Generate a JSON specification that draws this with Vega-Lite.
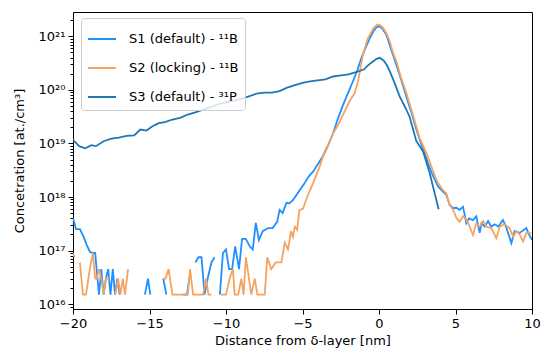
{
  "$schema": "https://vega.github.io/schema/vega-lite/v6.json",
  "width": 459,
  "height": 297,
  "autosize": {"type": "none"},
  "padding": {"left": 73, "top": 12, "right": 10, "bottom": 42},
  "background": "white",
  "config": {
    "font": "DejaVu Sans",
    "view": {"stroke": "black", "strokeWidth": 1},
    "axis": {
      "labelColor": "black", "tickColor": "black", "domainColor": "black", "titleColor": "black",
      "titleFontWeight": "normal", "labelFontSize": 13, "titleFontSize": 13, "tickSize": 5, "tickWidth": 1,
      "labelPadding": 3, "grid": false, "labelFont": "DejaVu Sans", "titleFont": "DejaVu Sans", "labelFlush": false
    }
  },
  "data": {"values": [
    {"s":"S1","x":-20.0,"c":4.07e17},{"s":"S1","x":-19.8,"c":2.51e17},{"s":"S1","x":-19.55,"c":2.51e17},{"s":"S1","x":-19.3,"c":1.78e17},{"s":"S1","x":-19.1,"c":1.26e17},{"s":"S1","x":-18.9,"c":9.5e16},{"s":"S1","x":-18.7,"c":9e16},{"s":"S1","x":-18.55,"c":9e16},{"s":"S1","x":-18.4,"c":3e16},{"s":"S1","x":-18.3,"c":1.5e16},{"s":"S1","x":-18.15,"c":4.5e16},{"s":"S1","x":-18.0,"c":1.5e16},{"s":"S1","x":-17.85,"c":3e16},{"s":"S1","x":-17.7,"c":4.5e16},{"s":"S1","x":-17.55,"c":1.5e16},{"s":"S1","x":-17.4,"c":4.5e16},{"s":"S1","x":-17.25,"c":1.5e16},{"s":"S1","x":-17.1,"c":3e16},{"s":"S1","x":-16.95,"c":1.5e16},{"s":"S1","x":-16.8,"c":null},
    {"s":"S1","x":-15.3,"c":1.5e16},{"s":"S1","x":-15.1,"c":3e16},{"s":"S1","x":-14.95,"c":1.5e16},{"s":"S1","x":-14.8,"c":null},
    {"s":"S1","x":-14.1,"c":3e16},{"s":"S1","x":-13.9,"c":1.5e16},{"s":"S1","x":-13.75,"c":null},
    {"s":"S1","x":-12.8,"c":1.5e16},{"s":"S1","x":-12.55,"c":1.5e16},{"s":"S1","x":-12.4,"c":3e16},{"s":"S1","x":-12.25,"c":null},
    {"s":"S1","x":-12.0,"c":6e16},{"s":"S1","x":-11.8,"c":7.5e16},{"s":"S1","x":-11.6,"c":7.5e16},{"s":"S1","x":-11.4,"c":1.5e16},{"s":"S1","x":-11.2,"c":3e16},{"s":"S1","x":-10.95,"c":6e16},{"s":"S1","x":-10.75,"c":7.5e16},{"s":"S1","x":-10.6,"c":null},
    {"s":"S1","x":-10.4,"c":1.5e16},{"s":"S1","x":-10.2,"c":9e16},{"s":"S1","x":-10.0,"c":1.05e17},{"s":"S1","x":-9.8,"c":4.5e16},{"s":"S1","x":-9.6,"c":4.5e16},{"s":"S1","x":-9.4,"c":1.2e17},{"s":"S1","x":-9.15,"c":4.5e16},{"s":"S1","x":-8.95,"c":1.65e17},{"s":"S1","x":-8.7,"c":1.65e17},{"s":"S1","x":-8.45,"c":1.2e17},{"s":"S1","x":-8.25,"c":1.05e17},{"s":"S1","x":-8.05,"c":3.3e17},{"s":"S1","x":-7.85,"c":1.58e17},{"s":"S1","x":-7.6,"c":2.3e17},{"s":"S1","x":-7.25,"c":2.63e17},{"s":"S1","x":-6.95,"c":2.63e17},{"s":"S1","x":-6.65,"c":3.47e17},{"s":"S1","x":-6.5,"c":5.75e17},{"s":"S1","x":-6.3,"c":5.0e17},{"s":"S1","x":-6.05,"c":7.8e17},{"s":"S1","x":-5.85,"c":7.6e17},{"s":"S1","x":-5.6,"c":8.9e17},{"s":"S1","x":-5.25,"c":1.26e18},{"s":"S1","x":-4.9,"c":1.74e18},{"s":"S1","x":-4.6,"c":2.4e18},{"s":"S1","x":-4.3,"c":3.0e18},{"s":"S1","x":-4.0,"c":4.07e18},{"s":"S1","x":-3.7,"c":5.6e18},{"s":"S1","x":-3.4,"c":8.3e18},{"s":"S1","x":-3.0,"c":1.55e19},{"s":"S1","x":-2.7,"c":2.82e19},{"s":"S1","x":-2.35,"c":5.25e19},{"s":"S1","x":-2.0,"c":9.1e19},{"s":"S1","x":-1.7,"c":1.45e20},{"s":"S1","x":-1.4,"c":2.4e20},{"s":"S1","x":-1.15,"c":3.98e20},{"s":"S1","x":-0.9,"c":5.9e20},{"s":"S1","x":-0.6,"c":9.3e20},{"s":"S1","x":-0.35,"c":1.26e21},{"s":"S1","x":-0.15,"c":1.48e21},{"s":"S1","x":0.0,"c":1.55e21},{"s":"S1","x":0.2,"c":1.41e21},{"s":"S1","x":0.48,"c":1.07e21},{"s":"S1","x":0.8,"c":5.6e20},{"s":"S1","x":1.1,"c":3.16e20},{"s":"S1","x":1.35,"c":1.9e20},{"s":"S1","x":1.6,"c":1.12e20},{"s":"S1","x":1.9,"c":5.9e19},{"s":"S1","x":2.15,"c":3.55e19},{"s":"S1","x":2.4,"c":2.0e19},{"s":"S1","x":2.66,"c":1.17e19},{"s":"S1","x":2.9,"c":7.6e18},{"s":"S1","x":3.2,"c":4.3e18},{"s":"S1","x":3.5,"c":2.6e18},{"s":"S1","x":3.86,"c":1.58e18},{"s":"S1","x":4.18,"c":1.26e18},{"s":"S1","x":4.4,"c":1.1e18},{"s":"S1","x":4.62,"c":7.1e17},{"s":"S1","x":4.85,"c":6.2e17},{"s":"S1","x":5.06,"c":6.3e17},{"s":"S1","x":5.27,"c":5.75e17},{"s":"S1","x":5.49,"c":6.6e17},{"s":"S1","x":5.71,"c":3.24e17},{"s":"S1","x":5.88,"c":4.0e17},{"s":"S1","x":6.14,"c":3.7e17},{"s":"S1","x":6.36,"c":4.37e17},{"s":"S1","x":6.58,"c":2.14e17},{"s":"S1","x":6.7,"c":3.24e17},{"s":"S1","x":6.91,"c":2.8e17},{"s":"S1","x":7.13,"c":3.55e17},{"s":"S1","x":7.34,"c":2.8e17},{"s":"S1","x":7.56,"c":3.1e17},{"s":"S1","x":7.8,"c":2.8e17},{"s":"S1","x":8.1,"c":3.7e17},{"s":"S1","x":8.3,"c":2.8e17},{"s":"S1","x":8.65,"c":1.38e17},{"s":"S1","x":8.87,"c":2.3e17},{"s":"S1","x":9.2,"c":2.14e17},{"s":"S1","x":9.63,"c":2.63e17},{"s":"S1","x":9.8,"c":2.0e17},{"s":"S1","x":10.0,"c":1.58e17},

    {"s":"S2","x":-20.0,"c":9e16},{"s":"S2","x":-19.9,"c":7.5e16},{"s":"S2","x":-19.75,"c":null},{"s":"S2","x":-19.55,"c":6e16},{"s":"S2","x":-19.35,"c":1.5e16},{"s":"S2","x":-19.15,"c":1.5e16},{"s":"S2","x":-18.9,"c":4.5e16},{"s":"S2","x":-18.7,"c":9e16},{"s":"S2","x":-18.55,"c":3e16},{"s":"S2","x":-18.45,"c":3e16},{"s":"S2","x":-18.3,"c":4.5e16},{"s":"S2","x":-18.15,"c":3e16},{"s":"S2","x":-18.0,"c":1.5e16},{"s":"S2","x":-17.85,"c":3e16},{"s":"S2","x":-17.6,"c":3e16},{"s":"S2","x":-17.45,"c":null},
    {"s":"S2","x":-17.25,"c":1.5e16},{"s":"S2","x":-17.05,"c":3e16},{"s":"S2","x":-16.9,"c":1.5e16},{"s":"S2","x":-16.75,"c":3e16},{"s":"S2","x":-16.6,"c":1.5e16},{"s":"S2","x":-16.4,"c":4.5e16},{"s":"S2","x":-16.25,"c":null},
    {"s":"S2","x":-14.1,"c":3e16},{"s":"S2","x":-13.95,"c":3e16},{"s":"S2","x":-13.75,"c":4.5e16},{"s":"S2","x":-13.5,"c":1.5e16},{"s":"S2","x":-13.2,"c":1.5e16},{"s":"S2","x":-12.9,"c":1.5e16},{"s":"S2","x":-12.65,"c":1.5e16},{"s":"S2","x":-12.5,"c":1.5e16},{"s":"S2","x":-12.35,"c":4.5e16},{"s":"S2","x":-12.15,"c":1.5e16},{"s":"S2","x":-11.9,"c":1.5e16},{"s":"S2","x":-11.7,"c":1.5e16},{"s":"S2","x":-11.5,"c":1.5e16},{"s":"S2","x":-11.3,"c":3e16},{"s":"S2","x":-11.15,"c":1.5e16},{"s":"S2","x":-10.95,"c":1.5e16},{"s":"S2","x":-10.7,"c":null},
    {"s":"S2","x":-10.35,"c":1.5e16},{"s":"S2","x":-10.0,"c":1.5e16},{"s":"S2","x":-9.76,"c":3e16},{"s":"S2","x":-9.55,"c":4.5e16},{"s":"S2","x":-9.43,"c":1.5e16},{"s":"S2","x":-9.2,"c":1.5e16},{"s":"S2","x":-9.0,"c":3e16},{"s":"S2","x":-8.85,"c":1.5e16},{"s":"S2","x":-8.7,"c":7.5e16},{"s":"S2","x":-8.5,"c":3e16},{"s":"S2","x":-8.35,"c":1.5e16},{"s":"S2","x":-8.12,"c":3e16},{"s":"S2","x":-7.95,"c":1.5e16},{"s":"S2","x":-7.7,"c":1.5e16},{"s":"S2","x":-7.47,"c":1.5e16},{"s":"S2","x":-7.3,"c":7.5e16},{"s":"S2","x":-7.05,"c":4.5e16},{"s":"S2","x":-6.75,"c":6e16},{"s":"S2","x":-6.5,"c":6e16},{"s":"S2","x":-6.38,"c":6e16},{"s":"S2","x":-6.16,"c":1.4e17},{"s":"S2","x":-5.95,"c":1.05e17},{"s":"S2","x":-5.75,"c":2.3e17},{"s":"S2","x":-5.62,"c":1.8e17},{"s":"S2","x":-5.5,"c":2.8e17},{"s":"S2","x":-5.35,"c":2.45e17},{"s":"S2","x":-5.2,"c":5.75e17},{"s":"S2","x":-4.97,"c":6.0e17},{"s":"S2","x":-4.64,"c":1.1e18},{"s":"S2","x":-4.31,"c":1.82e18},{"s":"S2","x":-3.88,"c":3.7e18},{"s":"S2","x":-3.55,"c":7.1e18},{"s":"S2","x":-3.22,"c":1.07e19},{"s":"S2","x":-3.0,"c":1.55e19},{"s":"S2","x":-2.68,"c":2.2e19},{"s":"S2","x":-2.35,"c":3.47e19},{"s":"S2","x":-1.92,"c":6.2e19},{"s":"S2","x":-1.59,"c":8.7e19},{"s":"S2","x":-1.37,"c":1.45e20},{"s":"S2","x":-1.2,"c":2.63e20},{"s":"S2","x":-1.05,"c":4.6e20},{"s":"S2","x":-0.72,"c":9.3e20},{"s":"S2","x":-0.35,"c":1.45e21},{"s":"S2","x":-0.1,"c":1.66e21},{"s":"S2","x":0.05,"c":1.62e21},{"s":"S2","x":0.26,"c":1.45e21},{"s":"S2","x":0.5,"c":1.12e21},{"s":"S2","x":0.7,"c":8.1e20},{"s":"S2","x":0.92,"c":4.9e20},{"s":"S2","x":1.14,"c":3.4e20},{"s":"S2","x":1.45,"c":1.66e20},{"s":"S2","x":1.79,"c":8.7e19},{"s":"S2","x":2.2,"c":3.55e19},{"s":"S2","x":2.66,"c":1.26e19},{"s":"S2","x":3.1,"c":6.6e18},{"s":"S2","x":3.45,"c":3.55e18},{"s":"S2","x":3.75,"c":2.1e18},{"s":"S2","x":3.86,"c":1.82e18},{"s":"S2","x":4.18,"c":1.35e18},{"s":"S2","x":4.4,"c":1.17e18},{"s":"S2","x":4.62,"c":7.1e17},{"s":"S2","x":4.85,"c":5.75e17},{"s":"S2","x":5.06,"c":4.07e17},{"s":"S2","x":5.27,"c":3.47e17},{"s":"S2","x":5.49,"c":4.37e17},{"s":"S2","x":5.71,"c":3.8e17},{"s":"S2","x":5.93,"c":2.8e17},{"s":"S2","x":6.14,"c":1.95e17},{"s":"S2","x":6.36,"c":3.24e17},{"s":"S2","x":6.58,"c":2.8e17},{"s":"S2","x":6.8,"c":3.55e17},{"s":"S2","x":7.0,"c":2.8e17},{"s":"S2","x":7.34,"c":2.63e17},{"s":"S2","x":7.67,"c":1.7e17},{"s":"S2","x":7.89,"c":2.8e17},{"s":"S2","x":8.2,"c":3.1e17},{"s":"S2","x":8.54,"c":2.63e17},{"s":"S2","x":8.76,"c":1.82e17},{"s":"S2","x":8.98,"c":2.3e17},{"s":"S2","x":9.2,"c":2.0e17},{"s":"S2","x":9.41,"c":1.48e17},{"s":"S2","x":9.63,"c":2.14e17},{"s":"S2","x":9.96,"c":2.1e17},

    {"s":"S3","x":-20.0,"c":1.17e19},{"s":"S3","x":-19.6,"c":8.9e18},{"s":"S3","x":-19.2,"c":8.1e18},{"s":"S3","x":-18.8,"c":9.3e18},{"s":"S3","x":-18.5,"c":8.9e18},{"s":"S3","x":-18.0,"c":1.1e19},{"s":"S3","x":-17.5,"c":1.23e19},{"s":"S3","x":-17.0,"c":1.29e19},{"s":"S3","x":-16.5,"c":1.38e19},{"s":"S3","x":-16.0,"c":1.41e19},{"s":"S3","x":-15.6,"c":1.82e19},{"s":"S3","x":-15.2,"c":1.74e19},{"s":"S3","x":-14.8,"c":2.1e19},{"s":"S3","x":-14.4,"c":2.4e19},{"s":"S3","x":-14.0,"c":2.5e19},{"s":"S3","x":-13.5,"c":2.8e19},{"s":"S3","x":-13.0,"c":3.0e19},{"s":"S3","x":-12.5,"c":3.47e19},{"s":"S3","x":-12.0,"c":3.8e19},{"s":"S3","x":-11.5,"c":4.27e19},{"s":"S3","x":-11.0,"c":4.8e19},{"s":"S3","x":-10.5,"c":5.4e19},{"s":"S3","x":-10.0,"c":5.9e19},{"s":"S3","x":-9.5,"c":6.3e19},{"s":"S3","x":-9.0,"c":6.8e19},{"s":"S3","x":-8.5,"c":7.6e19},{"s":"S3","x":-8.0,"c":8.5e19},{"s":"S3","x":-7.5,"c":8.9e19},{"s":"S3","x":-7.0,"c":8.9e19},{"s":"S3","x":-6.5,"c":9.5e19},{"s":"S3","x":-6.0,"c":1.1e20},{"s":"S3","x":-5.5,"c":1.23e20},{"s":"S3","x":-5.0,"c":1.35e20},{"s":"S3","x":-4.5,"c":1.45e20},{"s":"S3","x":-4.0,"c":1.51e20},{"s":"S3","x":-3.5,"c":1.58e20},{"s":"S3","x":-3.0,"c":1.78e20},{"s":"S3","x":-2.5,"c":1.86e20},{"s":"S3","x":-2.0,"c":1.95e20},{"s":"S3","x":-1.5,"c":2.14e20},{"s":"S3","x":-1.0,"c":2.4e20},{"s":"S3","x":-0.7,"c":2.9e20},{"s":"S3","x":-0.4,"c":3.4e20},{"s":"S3","x":-0.15,"c":3.8e20},{"s":"S3","x":0.05,"c":3.98e20},{"s":"S3","x":0.3,"c":3.55e20},{"s":"S3","x":0.5,"c":2.95e20},{"s":"S3","x":0.7,"c":2.24e20},{"s":"S3","x":0.95,"c":1.51e20},{"s":"S3","x":1.35,"c":7.6e19},{"s":"S3","x":1.7,"c":4.8e19},{"s":"S3","x":2.0,"c":3.16e19},{"s":"S3","x":2.44,"c":1.1e19},{"s":"S3","x":2.88,"c":7.1e18},{"s":"S3","x":3.31,"c":2.8e18},{"s":"S3","x":3.64,"c":1.17e18},{"s":"S3","x":3.9,"c":5.9e17}
  ]},
  "layer": [
    {
      "mark": {"type": "line", "strokeWidth": 1.8, "clip": true, "invalid": "break-paths-filter-domains"},
      "encoding": {
        "x": {"field": "x", "type": "quantitative",
              "scale": {"domain": [-20, 10], "nice": false, "zero": false, "padding": 0},
              "axis": {"values": [-20, -15, -10, -5, 0, 5, 10], "title": "Distance from δ-layer [nm]", "titlePadding": 4}},
        "y": {"field": "c", "type": "quantitative",
              "scale": {"type": "log", "domain": [8.1e15, 2.85e21], "nice": false, "padding": 0},
              "axis": {"values": [1e16, 1e17, 1e18, 1e19, 1e20, 1e21],
                       "labelExpr": "datum.value < 5e16 ? '10¹⁶' : datum.value < 5e17 ? '10¹⁷' : datum.value < 5e18 ? '10¹⁸' : datum.value < 5e19 ? '10¹⁹' : datum.value < 5e20 ? '10²⁰' : '10²¹'",
                       "title": "Concetration [at./cm³]", "titlePadding": 12}},
        "color": {"field": "s", "type": "nominal",
                  "scale": {"domain": ["S1", "S2", "S3"], "range": ["#1e90ff", "#f4a460", "#1f77b4"]},
                  "legend": {"orient": "none", "legendX": 8, "legendY": 6, "title": null,
                             "symbolType": "stroke", "symbolSize": 784, "symbolStrokeWidth": 2,
                             "labelFontSize": 13, "labelFont": "DejaVu Sans", "labelColor": "black", "labelOffset": 12,
                             "rowPadding": 7, "padding": 6, "fillColor": "rgba(255,255,255,0.8)",
                             "strokeColor": "#cccccc", "cornerRadius": 3,
                             "labelExpr": "datum.label == 'S1' ? 'S1 (default) - ¹¹B' : datum.label == 'S2' ? 'S2 (locking) - ¹¹B' : 'S3 (default) - ³¹P'"}}
      }
    },
    {
      "mark": {"type": "point", "opacity": 0},
      "encoding": {
        "x": {"field": "x", "type": "quantitative", "scale": {"domain": [-20, 10], "nice": false, "zero": false, "padding": 0}},
        "y": {"field": "c", "type": "quantitative",
              "scale": {"type": "log", "domain": [8.1e15, 2.85e21], "nice": false, "padding": 0},
              "axis": {"orient": "left", "values": [9e15, 2e16, 3e16, 4e16, 5e16, 6e16, 7e16, 8e16, 9e16, 2e17, 3e17, 4e17, 5e17, 6e17, 7e17, 8e17, 9e17, 2e18, 3e18, 4e18, 5e18, 6e18, 7e18, 8e18, 9e18, 2e19, 3e19, 4e19, 5e19, 6e19, 7e19, 8e19, 9e19, 2e20, 3e20, 4e20, 5e20, 6e20, 7e20, 8e20, 9e20, 2e21],
                       "labels": false, "domain": false, "tickSize": 3, "title": null}}
      }
    }
  ],
  "resolve": {"axis": {"y": "independent"}}
}
